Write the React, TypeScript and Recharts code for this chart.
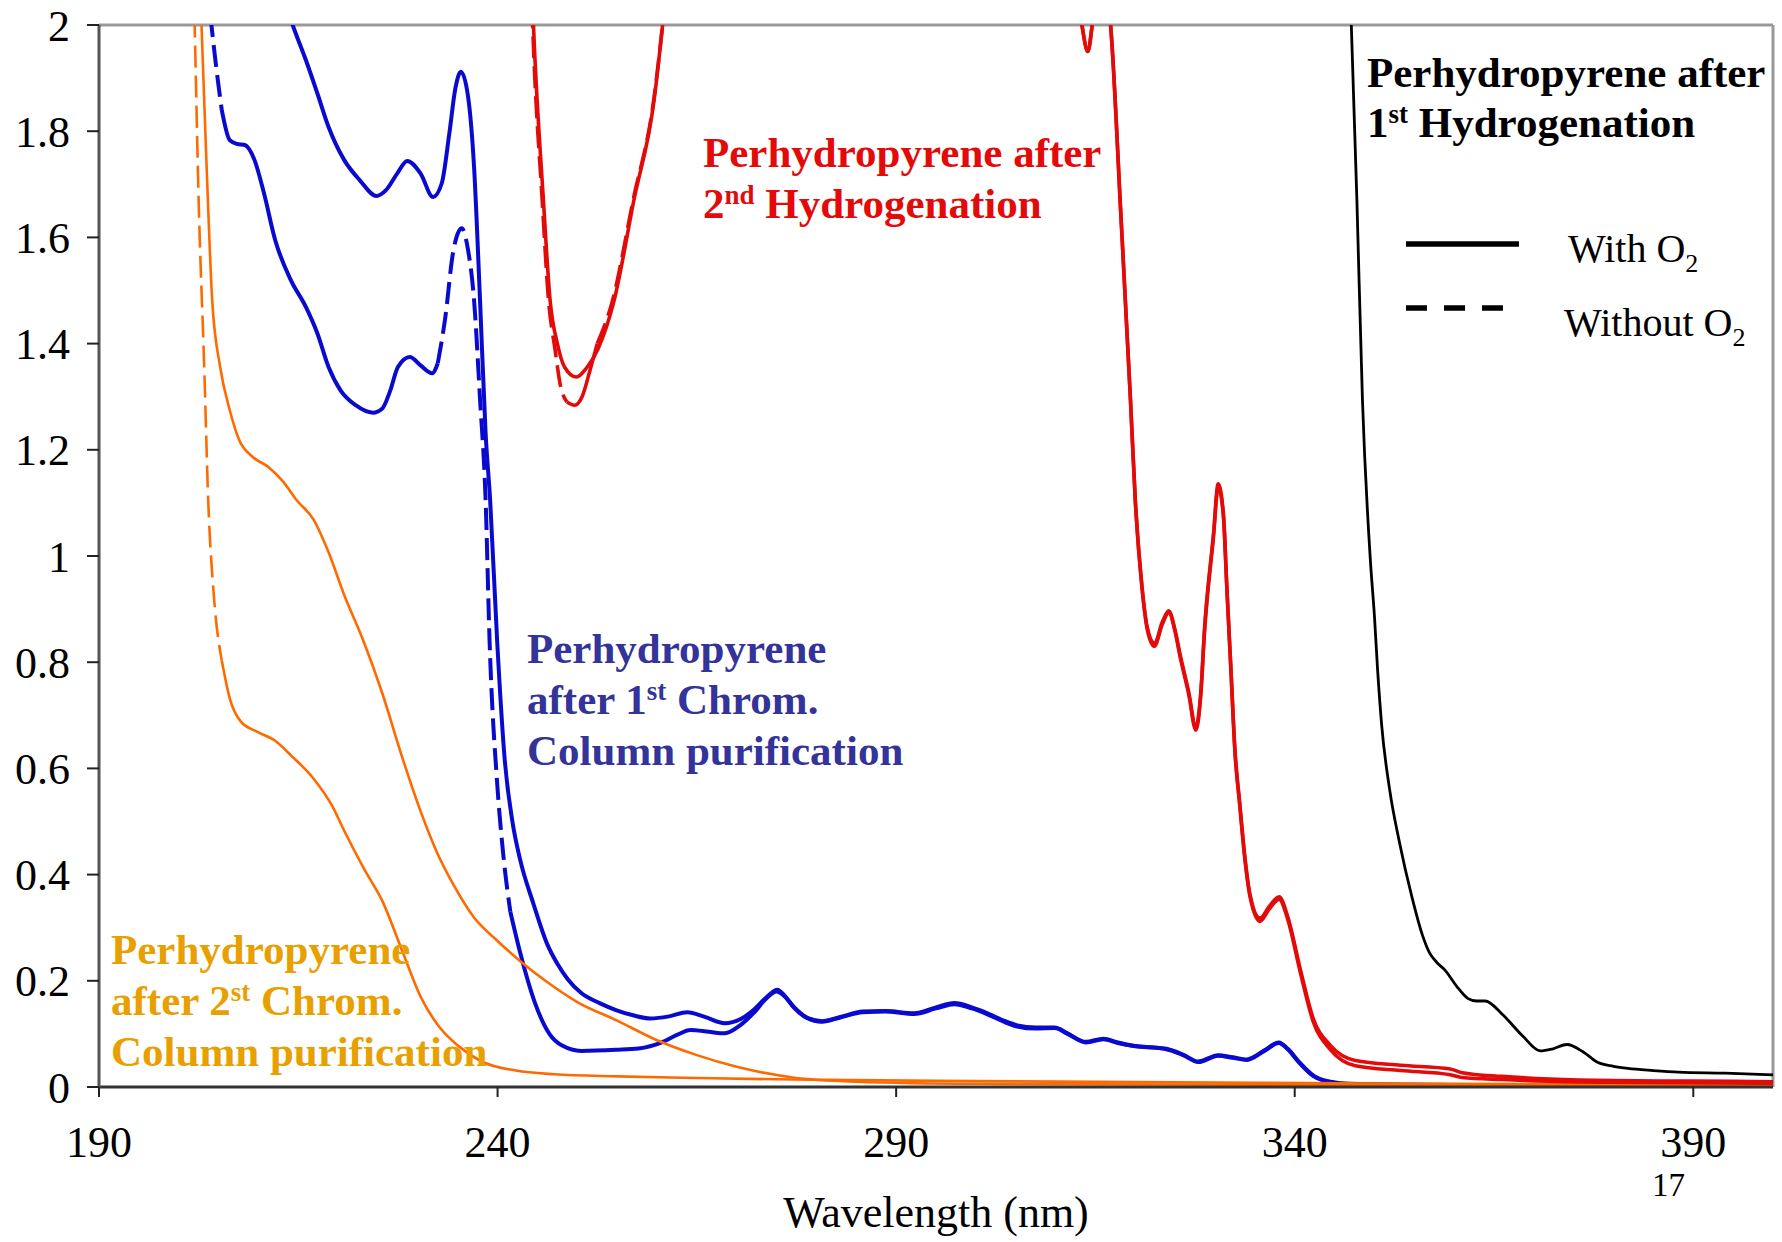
import { LineChart, Line, XAxis, YAxis, ReferenceLine } from "recharts";

type Pair = [number, number];
type Range = [number, number];

const font = "'Liberation Serif', 'Times New Roman', serif";

const xTicks = [190, 240, 290, 340, 390];
const yTicks = [0, 0.2, 0.4, 0.6, 0.8, 1, 1.2, 1.4, 1.6, 1.8, 2];

// absorbance spectra, [wavelength nm, absorbance]
const blueWithO2: Pair[] = [
  [211.5, 2.2], [213, 2.06], [214.3, 2.0], [215.95, 1.934], [217.4, 1.871], [218.8, 1.808],
  [220.75, 1.746], [222.7, 1.708], [224.8, 1.678], [226.0, 1.689], [227.4, 1.72], [228.66, 1.744],
  [230.35, 1.72], [231.9, 1.676], [233.0, 1.702], [233.95, 1.796], [234.7, 1.88], [235.4, 1.912],
  [236.3, 1.865], [237.05, 1.733], [237.8, 1.482], [238.5, 1.231], [239.07, 1.105], [239.95, 0.839],
  [240.9, 0.616], [241.85, 0.501], [242.8, 0.43], [244.5, 0.345], [246.2, 0.27], [247.5, 0.232],
  [248.8, 0.203], [250.5, 0.177], [252.8, 0.158], [254.85, 0.145], [257, 0.135], [259.2, 0.129],
  [261.5, 0.133], [263.8, 0.141], [266, 0.132], [268.5, 0.12], [270.5, 0.128], [272.1, 0.145],
  [273.8, 0.17], [275.1, 0.183], [276, 0.172], [277.1, 0.151], [278.8, 0.13], [280.7, 0.123],
  [283, 0.131], [285.8, 0.141], [288.65, 0.142], [292.25, 0.1375], [295, 0.148], [297.3, 0.156],
  [299.5, 0.148], [301.6, 0.136], [303.5, 0.123], [305.2, 0.114], [307.5, 0.11], [309.9, 0.111],
  [311.5, 0.1], [313.8, 0.084], [316.0, 0.09], [317.8, 0.083], [319.6, 0.0776], [323.9, 0.0712],
  [326, 0.06], [327.9, 0.047], [330.4, 0.059], [332.2, 0.055], [334.0, 0.051], [336.2, 0.068],
  [338.0, 0.083], [339.2, 0.07], [340.5, 0.047], [342.4, 0.02], [344.5, 0.009], [347, 0.005],
  [360, 0.003], [400, 0.002],
];

const blueWithoutO2: Pair[] = [
  [202.5, 2.3], [203.5, 2.08], [204.1, 2.0], [204.7, 1.921], [205.4, 1.84], [206.4, 1.783],
  [207.3, 1.776], [208.3, 1.774], [209.5, 1.746], [210.7, 1.683], [212.1, 1.595], [214.05, 1.52],
  [215.95, 1.469], [217.4, 1.419], [218.8, 1.356], [220.3, 1.312], [222.2, 1.284], [224.35, 1.27],
  [225.55, 1.278], [226.5, 1.31], [227.5, 1.356], [229.0, 1.375], [230.35, 1.359], [231.8, 1.344],
  [232.5, 1.363], [233.45, 1.45], [234.4, 1.57], [235.5, 1.617], [236.3, 1.576], [237.05, 1.482],
  [237.8, 1.295], [238.5, 1.105], [239.0, 0.839], [239.95, 0.572], [240.7, 0.44], [241.6, 0.33],
  [242.8, 0.255], [244.7, 0.158], [246.5, 0.1], [248.1, 0.078], [250.5, 0.068], [254.85, 0.07],
  [257.7, 0.0725], [260.6, 0.084], [262.5, 0.098], [264.2, 0.1075], [266.5, 0.104], [268.5, 0.101],
  [270.5, 0.117], [272.1, 0.139], [273.8, 0.168], [275.0, 0.18], [276, 0.171], [277.1, 0.152],
  [278.8, 0.131], [280.7, 0.124], [283, 0.132], [285.8, 0.142], [288.65, 0.143], [292.25, 0.139],
  [295, 0.15], [297.3, 0.158], [299.5, 0.15], [301.6, 0.138], [303.5, 0.125], [305.2, 0.116],
  [307.5, 0.112], [309.9, 0.112], [311.5, 0.101], [313.8, 0.085], [316.0, 0.091], [317.8, 0.084],
  [319.6, 0.078], [323.9, 0.072], [326, 0.061], [327.9, 0.048], [330.4, 0.06], [332.2, 0.056],
  [334.0, 0.052], [336.2, 0.069], [338.0, 0.084], [339.2, 0.071], [340.5, 0.048], [342.4, 0.021],
  [344.5, 0.01], [347, 0.006], [360, 0.004], [400, 0.003],
];

const orangeWithO2: Pair[] = [
  [202.3, 2.25], [202.86, 2.0], [203.5, 1.733], [204.2, 1.482], [205.2, 1.356], [206.4, 1.275],
  [207.6, 1.218], [209.25, 1.187], [211.2, 1.168], [213.1, 1.14], [214.8, 1.105], [216.9, 1.069],
  [218.8, 1.007], [220.75, 0.927], [223.2, 0.839], [225.55, 0.741], [227.95, 0.625], [230.35, 0.519],
  [232.3, 0.445], [234.5, 0.38], [237, 0.32], [240, 0.275], [243, 0.235], [246, 0.2], [250, 0.16],
  [255, 0.125], [260, 0.088], [265, 0.06], [270, 0.038], [277, 0.018], [285, 0.01], [300, 0.006],
  [350, 0.004], [400, 0.003],
];

const orangeWithoutO2: Pair[] = [
  [201.5, 2.3], [202.0, 2.0], [202.5, 1.67], [203.2, 1.356], [203.7, 1.105], [204.4, 0.927],
  [205.4, 0.803], [206.4, 0.732], [207.8, 0.688], [209.7, 0.67], [212.1, 0.652], [214.05, 0.625],
  [216.9, 0.581], [219.3, 0.528], [220.75, 0.483], [223.2, 0.412], [225.55, 0.35], [227.95, 0.26],
  [230.35, 0.17], [232.75, 0.112], [235.1, 0.077], [238.0, 0.048], [242.3, 0.031], [247.1, 0.024],
  [255, 0.02], [265, 0.017], [277, 0.014], [300, 0.011], [335, 0.008], [360, 0.006], [400, 0.004],
];

const redWithO2: Pair[] = [
  [243, 2.6], [243.8, 2.3], [244.5, 2.0], [245.75, 1.67], [246.6, 1.48], [247.5, 1.4],
  [248.4, 1.356], [249.9, 1.337], [251.2, 1.355], [252.6, 1.39], [254.6, 1.48], [257.1, 1.67],
  [259.65, 1.86], [260.7, 2.0], [262, 2.2], [270, 2.7], [285, 2.9], [300, 2.8], [308, 2.5],
  [312, 2.15], [313.3, 2.0], [314.05, 1.95], [314.6, 2.0], [315.5, 2.12], [316.2, 2.08],
  [316.9, 2.0], [318.2, 1.64], [319.4, 1.293], [320.0, 1.105], [320.85, 0.94], [321.5, 0.866],
  [322.4, 0.836], [323.4, 0.876], [324.2, 0.897], [325.0, 0.86], [325.6, 0.816], [326.7, 0.744],
  [327.6, 0.678], [328.2, 0.74], [328.7, 0.866], [329.8, 1.039], [330.4, 1.136], [331.05, 1.08],
  [331.5, 0.9375], [332.0, 0.785], [332.5, 0.632], [333.1, 0.531], [333.75, 0.429], [334.4, 0.358],
  [335.65, 0.312], [336.8, 0.335], [338.05, 0.353], [339.1, 0.317], [340.7, 0.216], [342.3, 0.124],
  [344.5, 0.07], [347.6, 0.04], [353.3, 0.031], [359.5, 0.023], [361, 0.018], [366, 0.014],
  [372, 0.011], [380, 0.009], [390, 0.008], [400, 0.007],
];

const redWithoutO2: Pair[] = [
  [243, 2.6], [243.8, 2.3], [244.4, 2.0], [245.6, 1.67], [246.4, 1.48], [247.2, 1.39],
  [247.9, 1.32], [248.7, 1.29], [249.65, 1.284], [250.6, 1.3], [251.6, 1.35], [252.5, 1.4],
  [254.4, 1.48], [257.0, 1.67], [259.6, 1.86], [260.7, 2.0], [262, 2.2], [270, 2.7], [285, 2.9],
  [300, 2.8], [308, 2.5], [312, 2.15], [313.3, 2.0], [314.05, 1.95], [314.6, 2.0], [315.5, 2.12],
  [316.2, 2.08], [316.9, 2.0], [318.2, 1.64], [319.4, 1.293], [320.0, 1.105], [320.85, 0.94],
  [321.5, 0.862], [322.4, 0.83], [323.4, 0.872], [324.2, 0.893], [325.0, 0.857], [325.6, 0.812],
  [326.7, 0.74], [327.6, 0.672], [328.2, 0.735], [328.7, 0.86], [329.8, 1.035], [330.4, 1.13],
  [331.05, 1.076], [331.5, 0.935], [332.0, 0.785], [332.5, 0.635], [333.1, 0.535], [333.75, 0.433],
  [334.4, 0.362], [335.65, 0.318], [336.8, 0.34], [338.05, 0.358], [339.1, 0.322], [340.7, 0.222],
  [342.3, 0.13], [344.5, 0.078], [347.6, 0.05], [353.3, 0.041], [359.5, 0.034], [361, 0.027],
  [366, 0.02], [372, 0.015], [380, 0.012], [390, 0.011], [400, 0.01],
];

const blackWithO2: Pair[] = [
  [346.4, 2.3], [347.1, 2.0], [347.8, 1.67], [348.5, 1.293], [349.5, 0.99], [350.0, 0.887],
  [350.4, 0.785], [350.9, 0.683], [351.9, 0.561], [353.15, 0.46], [354.7, 0.358], [356.0, 0.287],
  [356.9, 0.253], [357.8, 0.235], [358.8, 0.221], [360.3, 0.19], [361.7, 0.167], [362.8, 0.162],
  [363.9, 0.162], [366.1, 0.136], [368.6, 0.096], [370.8, 0.068], [372.4, 0.072], [374.15, 0.08],
  [376.2, 0.066], [378.05, 0.046], [380, 0.039], [381.8, 0.035], [385, 0.031], [388.15, 0.028],
  [394, 0.026], [400, 0.023],
];

// where the "without O2" traces show visible dash gaps (steep parts)
const blueDashRanges: Range[] = [[202.5, 205.4], [232.5, 241.6]];
const orangeDashRanges: Range[] = [[201.5, 205.4]];
const redDashRanges: Range[] = [[243, 248.7], [252.5, 262]];

const BLUE = "#0a0acf";
const ORANGE = "#ff6a00";
const RED = "#e30a0a";

function toPts(pairs: Pair[]) {
  return pairs.map(([x, y]) => ({ x, y }));
}

function split(pairs: Pair[], ranges: Range[]) {
  const inside = (x: number) => ranges.some(([a, b]) => x >= a && x <= b);
  const strict = (x: number) => ranges.some(([a, b]) => x > a && x < b);
  return {
    dashed: pairs.map(([x, y]) => ({ x, y: inside(x) ? y : null })),
    solid: pairs.map(([x, y]) => ({ x, y: strict(x) ? null : y })),
  };
}

const blueDash = split(blueWithoutO2, blueDashRanges);
const orangeDash = split(orangeWithoutO2, orangeDashRanges);
const redDash = split(redWithoutO2, redDashRanges);

const dash = "22 8";

export default function App() {
  const common = {
    dataKey: "y",
    type: "monotone" as const,
    dot: false,
    activeDot: false,
    isAnimationActive: false,
    connectNulls: false,
  };
  return (
    <div style={{ position: "absolute", left: 0, top: 0, width: 1782, height: 1242, background: "#fff" }}>
      <LineChart width={1782} height={1242} margin={{ top: 25, right: 9, bottom: 0, left: 0 }}>
        <XAxis
          dataKey="x"
          type="number"
          domain={[190, 400]}
          ticks={xTicks}
          allowDataOverflow
          height={155}
          tickSize={10}
          tickMargin={29}
          axisLine={{ stroke: "#333", strokeWidth: 3 }}
          tickLine={{ stroke: "#222", strokeWidth: 2 }}
          tick={{ fontSize: 44, fill: "#000", fontFamily: font }}
          label={{ value: "Wavelength (nm)", position: "insideBottom", offset: 15, fill: "#000", fontSize: 44, fontFamily: font }}
        />
        <YAxis
          type="number"
          domain={[0, 2]}
          ticks={yTicks}
          allowDataOverflow
          width={99}
          tickSize={12}
          tickMargin={17}
          axisLine={{ stroke: "#555", strokeWidth: 3 }}
          tickLine={{ stroke: "#222", strokeWidth: 2 }}
          tick={{ fontSize: 44, fill: "#000", fontFamily: font }}
        />
        <ReferenceLine y={2} stroke="#999" strokeWidth={3} />
        <ReferenceLine x={400} stroke="#999" strokeWidth={3} />

        <Line {...common} data={blueDash.solid} stroke={BLUE} strokeWidth={4} name="blue-wo-solid" />
        <Line {...common} data={blueDash.dashed} stroke={BLUE} strokeWidth={4} strokeDasharray={dash} name="blue-wo-dash" />
        <Line {...common} data={toPts(blueWithO2)} stroke={BLUE} strokeWidth={4} name="blue-w" />

        <Line {...common} data={orangeDash.solid} stroke={ORANGE} strokeWidth={2.6} name="orange-wo-solid" />
        <Line {...common} data={orangeDash.dashed} stroke={ORANGE} strokeWidth={2.6} strokeDasharray={dash} name="orange-wo-dash" />
        <Line {...common} data={toPts(orangeWithO2)} stroke={ORANGE} strokeWidth={2.6} name="orange-w" />

        <Line {...common} data={redDash.solid} stroke={RED} strokeWidth={3.6} name="red-wo-solid" />
        <Line {...common} data={redDash.dashed} stroke={RED} strokeWidth={3.6} strokeDasharray={dash} name="red-wo-dash" />
        <Line {...common} data={toPts(redWithO2)} stroke={RED} strokeWidth={3.6} name="red-w" />

        <Line {...common} data={toPts(blackWithO2)} stroke="#000" strokeWidth={2.8} name="black-w" />
      </LineChart>

      <svg
        width={1782}
        height={1242}
        style={{ position: "absolute", left: 0, top: 0, pointerEvents: "none" }}
        fontFamily={font}
      >
        <g fill={RED} fontWeight="bold" fontSize={43}>
          <text x={703} y={167}>Perhydropyrene after</text>
          <text x={703} y={218}>
            2<tspan fontSize={27} dy={-14}>nd</tspan>
            <tspan dy={14}>{" Hydrogenation"}</tspan>
          </text>
        </g>
        <g fill="#000" fontWeight="bold" fontSize={43}>
          <text x={1367} y={87}>Perhydropyrene after</text>
          <text x={1367} y={137}>
            1<tspan fontSize={27} dy={-14}>st</tspan>
            <tspan dy={14}>{" Hydrogenation"}</tspan>
          </text>
        </g>
        <g fill="#333399" fontWeight="bold" fontSize={43}>
          <text x={527} y={663}>Perhydropyrene</text>
          <text x={527} y={714}>
            after 1<tspan fontSize={27} dy={-14}>st</tspan>
            <tspan dy={14}>{" Chrom."}</tspan>
          </text>
          <text x={527} y={765}>Column purification</text>
        </g>
        <g fill="#e8a000" fontWeight="bold" fontSize={43}>
          <text x={111} y={964}>Perhydropyrene</text>
          <text x={111} y={1015}>
            after 2<tspan fontSize={27} dy={-14}>st</tspan>
            <tspan dy={14}>{" Chrom."}</tspan>
          </text>
          <text x={111} y={1066}>Column purification</text>
        </g>

        <line x1={1406} y1={244} x2={1519} y2={244} stroke="#000" strokeWidth={5.5} />
        <line x1={1406} y1={308} x2={1503} y2={308} stroke="#000" strokeWidth={5.5} strokeDasharray="21 17" />
        <g fill="#000" fontSize={40}>
          <text x={1568} y={262}>
            With O<tspan fontSize={26} dy={10}>2</tspan>
          </text>
          <text x={1564} y={336}>
            Without O<tspan fontSize={26} dy={10}>2</tspan>
          </text>
        </g>

        <text x={1652} y={1196} fontSize={33} fill="#000">17</text>
      </svg>
    </div>
  );
}
